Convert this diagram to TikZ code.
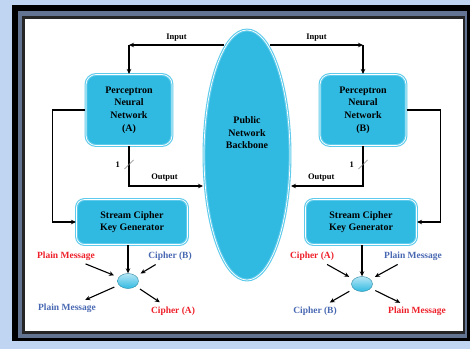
\documentclass[tikz,border=0pt]{standalone}
\usepackage{fontspec}
\setmainfont{Liberation Serif}
\usepackage{xcolor}
\usetikzlibrary{arrows.meta, positioning, calc, shapes.geometric}

\definecolor{boxcyan}{RGB}{48,186,226}
\definecolor{rimcyan}{RGB}{95,203,236}
\definecolor{msgred}{RGB}{238,32,42}
\definecolor{msgblue}{RGB}{72,104,178}
\definecolor{glowblue}{RGB}{192,213,242}
\definecolor{framegray}{RGB}{98,116,146}

\begin{document}
\begin{tikzpicture}[x=1bp, y=-1bp,
    box/.style={rounded corners=10bp, fill=boxcyan, draw=rimcyan, double=white, double distance=0.7bp, line width=1.1bp, align=center, font=\fontsize{10}{12.6}\selectfont\bfseries},
    lbl/.style={font=\fontsize{8.5}{10}\selectfont\bfseries, inner sep=1bp},
    msg/.style={font=\fontsize{9.5}{11}\selectfont\bfseries, inner sep=1.5bp},
    hub/.style={ellipse, minimum width=21bp, minimum height=15bp, inner sep=0, top color=boxcyan!35!white, bottom color=boxcyan, draw=boxcyan!70!black, line width=0.4bp},
    tick/.style={inner sep=0, minimum size=8bp, label={[lbl, label distance=3bp]left:1}},
    arr/.style={-{Stealth[length=5bp,width=4.5bp]}, line width=1.1bp},
    msgarr/.style={arr, shorten <=5bp, shorten >=5bp}]
    % frame
    \useasboundingbox (0,0) rectangle (470,349);
    \fill[glowblue] (0,0) rectangle (470,349);
    \fill[black] (12,5) rectangle (470,341);
    \fill[framegray] (18,11) rectangle (467,338);
    \fill[black!85] (22,16) rectangle (465,334);
    \fill[white] (25,19) rectangle (463,331);

    \node[box, ellipse, minimum width=86bp, minimum height=250bp, inner sep=0] (backbone) at (247,155) {};
    \node[font=\fontsize{10}{12.6}\selectfont\bfseries, align=center] (bbtext) at (247,133) {Public\\Network\\Backbone};
    \node[box, minimum width=86bp, minimum height=71bp] (A) at (129,110) {Perceptron\\Neural\\Network\\(A)};
    \node[box, minimum width=86bp, minimum height=71bp] (B) at (363,110) {Perceptron\\Neural\\Network\\(B)};
    \node[box, rounded corners=8bp, minimum width=111bp, minimum height=45bp] (SA) at (132,222) {Stream Cipher\\Key Generator};
    \node[box, rounded corners=8bp, minimum width=111bp, minimum height=45bp] (SB) at (361,222) {Stream Cipher\\Key Generator};
    \node[hub] (hubA) at (128,281) {};
    \node[hub] (hubB) at (362,284) {};

    \node[msg, text=msgred] (plainA) at (66,256) {Plain Message};
    \node[msg, text=msgblue] (cipherBA) at (170,256) {Cipher (B)};
    \node[msg, text=msgblue] (plainAout) at (67,308) {Plain Message};
    \node[msg, text=msgred] (cipherAout) at (173,311) {Cipher (A)};
    \node[msg, text=msgred] (cipherAB) at (312,256) {Cipher (A)};
    \node[msg, text=msgblue] (plainB) at (413,256) {Plain Message};
    \node[msg, text=msgblue] (cipherBout) at (315,311) {Cipher (B)};
    \node[msg, text=msgred] (plainBout) at (417,311) {Plain Message};

    \coordinate (inA) at (224,45);
    \coordinate (inB) at (270,45);
    \coordinate (outA) at (203,186);
    \coordinate (outB) at (291,186);

    % input and output
    \draw[arr] (inA) -- node[lbl, above=2bp] {Input} (A.north |- inA);
    \draw[arr] (A.north |- inA) -- (A.north);
    \draw[arr] (inB) -- node[lbl, above=2bp] {Input} (B.north |- inB);
    \draw[arr] (B.north |- inB) -- (B.north);
    \draw[arr] (A.south) |- node[tick, pos=0.23] (tickA) {} node[lbl, pos=0.74, above=3bp] {Output} (outA);
    \draw[arr] (B.south) |- node[tick, pos=0.23] (tickB) {} node[lbl, pos=0.79, above=3bp] {Output} (outB);
    \draw[gray, line width=0.6bp] (tickA.south west) -- (tickA.north east);
    \draw[gray, line width=0.6bp] (tickB.south west) -- (tickB.north east);

    % key streams
    \draw[arr] (A.west) -- ++(-33,0) |- (SA.west);
    \draw[arr] (B.east) -- ++(34,0) |- (SB.east);
    \draw[arr] (hubA.north |- SA.south) -- (hubA.north);
    \draw[arr] (hubB.north |- SB.south) -- (hubB.north);

    % messages
    \draw[msgarr] (plainA) -- (hubA);
    \draw[msgarr] (cipherBA) -- (hubA);
    \draw[msgarr] (hubA) -- (plainAout);
    \draw[msgarr] (hubA) -- (cipherAout);
    \draw[msgarr] (cipherAB) -- (hubB);
    \draw[msgarr] (plainB) -- (hubB);
    \draw[msgarr] (hubB) -- (cipherBout);
    \draw[msgarr] (hubB) -- (plainBout);
\end{tikzpicture}
\end{document}
